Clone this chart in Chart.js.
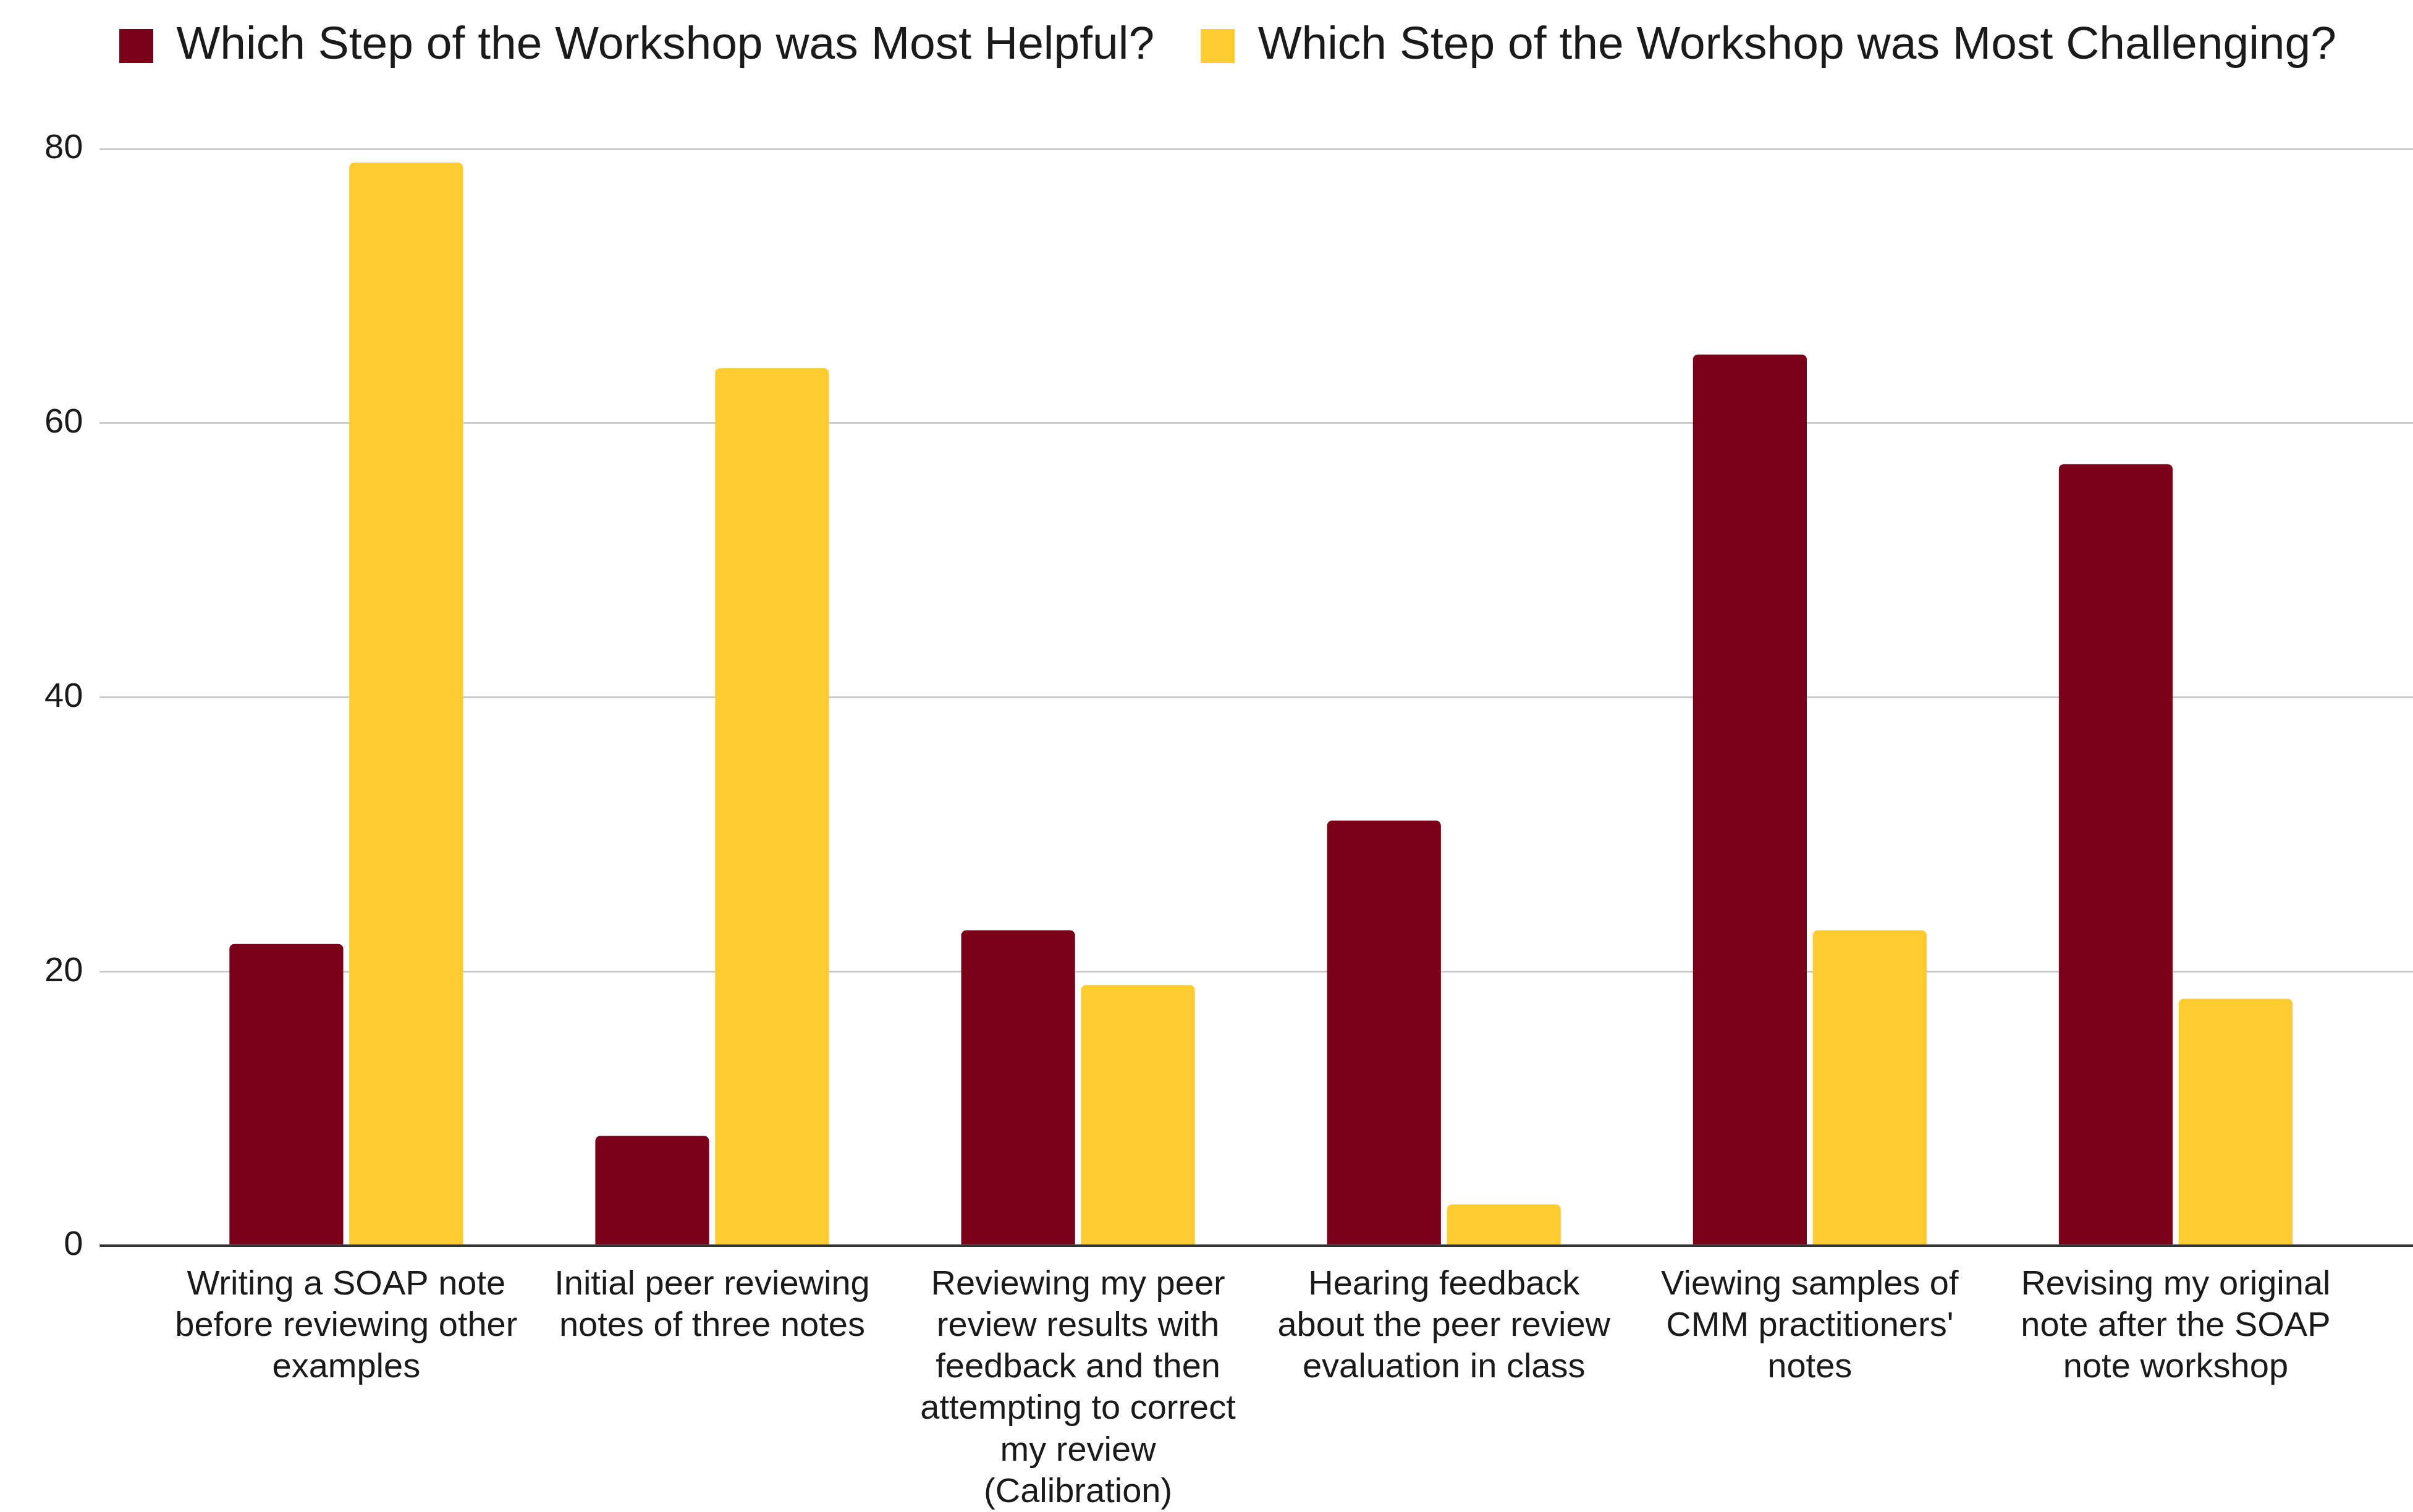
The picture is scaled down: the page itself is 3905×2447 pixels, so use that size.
<!DOCTYPE html>
<html>
<head>
<meta charset="utf-8">
<script src="https://cdn.jsdelivr.net/npm/chart.js@4.4.1/dist/chart.umd.min.js"></script>
<style>
  body { margin: 0; background: #fff; }
  #wrap { width: 3905px; height: 2447px; }
</style>
</head>
<body>
<div id="wrap"><canvas id="myChart"></canvas></div>
<script>
const categories = [
  ['Writing a SOAP note', 'before reviewing other', 'examples'],
  ['Initial peer reviewing', 'notes of three notes'],
  ['Reviewing my peer', 'review results with', 'feedback and then', 'attempting to correct', 'my review', '(Calibration)'],
  ['Hearing feedback', 'about the peer review', 'evaluation in class'],
  ['Viewing samples of', "CMM practitioners'", 'notes'],
  ['Revising my original', 'note after the SOAP', 'note workshop']
]
const helpfulLabel = 'Which Step of the Workshop was Most Helpful?'
const challengingLabel = 'Which Step of the Workshop was Most Challenging?'
const helpfulValues = [22, 8, 23, 31, 65, 57]
const challengingValues = [79, 64, 19, 3, 23, 18]
const yTickValues = [0, 20, 40, 60, 80]

const font = '"Liberation Sans", Arial, sans-serif'
const gridColor = ctx => ctx.tick && ctx.tick.value === 0 ? '#333333' : '#cccccc'
const gridWidth = ctx => ctx.tick && ctx.tick.value === 0 ? 4 : 3
const setTicks = scale => { scale.ticks = yTickValues.map(v => ({ value: v })) }

// push the plot down below the legend, nudge legend a little right
const legendGap = {
  id: 'legendGap',
  beforeInit(chart) {
    const fit = chart.legend.fit
    chart.legend.fit = function () {
      fit.bind(chart.legend)()
      this.height += 119
    }
  },
  afterLayout(chart) {
    chart.legend.left += 12
    chart.legend.right += 12
  }
}

const ctx = document.getElementById('myChart')
new Chart(ctx, {
  type: 'bar',
  data: {
    labels: categories,
    datasets: [{
      label: helpfulLabel,
      data: helpfulValues,
      backgroundColor: '#7A0019',
      borderWidth: 0,
      borderRadius: 8
    }, {
      label: challengingLabel,
      data: challengingValues,
      backgroundColor: '#FFCB30',
      borderWidth: 0,
      borderRadius: 8
    }]
  },
  plugins: [legendGap],
  options: {
    responsive: true,
    maintainAspectRatio: false,
    animation: false,
    devicePixelRatio: 1,
    categoryPercentage: 0.655,
    barPercentage: 0.95,
    layout: { padding: { left: 45, right: 0, top: -38, bottom: -32 } },
    plugins: {
      tooltip: { enabled: false },
      legend: {
        position: 'top',
        labels: {
          font: { family: font, size: 75 },
          color: '#1a1a1a',
          boxWidth: 55,
          boxHeight: 55,
          padding: 75
        }
      }
    },
    scales: {
      x: {
        grid: { display: false, drawTicks: false },
        border: { display: false },
        ticks: {
          font: { family: font, size: 56, lineHeight: 1.2 },
          color: '#1a1a1a',
          maxRotation: 0,
          autoSkip: false,
          padding: 30
        }
      },
      y: {
        min: 0,
        max: 80,
        afterBuildTicks: setTicks,
        border: { display: false },
        grid: { color: gridColor, tickColor: gridColor, lineWidth: gridWidth, tickLength: 103 },
        ticks: {
          font: { family: font, size: 56 },
          color: '#1a1a1a',
          padding: 27
        }
      },
      y2: {
        position: 'right',
        min: 0,
        max: 80,
        afterBuildTicks: setTicks,
        border: { display: false },
        grid: { drawOnChartArea: false, color: gridColor, tickColor: gridColor, lineWidth: gridWidth, tickLength: 88 },
        ticks: { display: false }
      }
    }
  }
})
</script>
</body>
</html>
